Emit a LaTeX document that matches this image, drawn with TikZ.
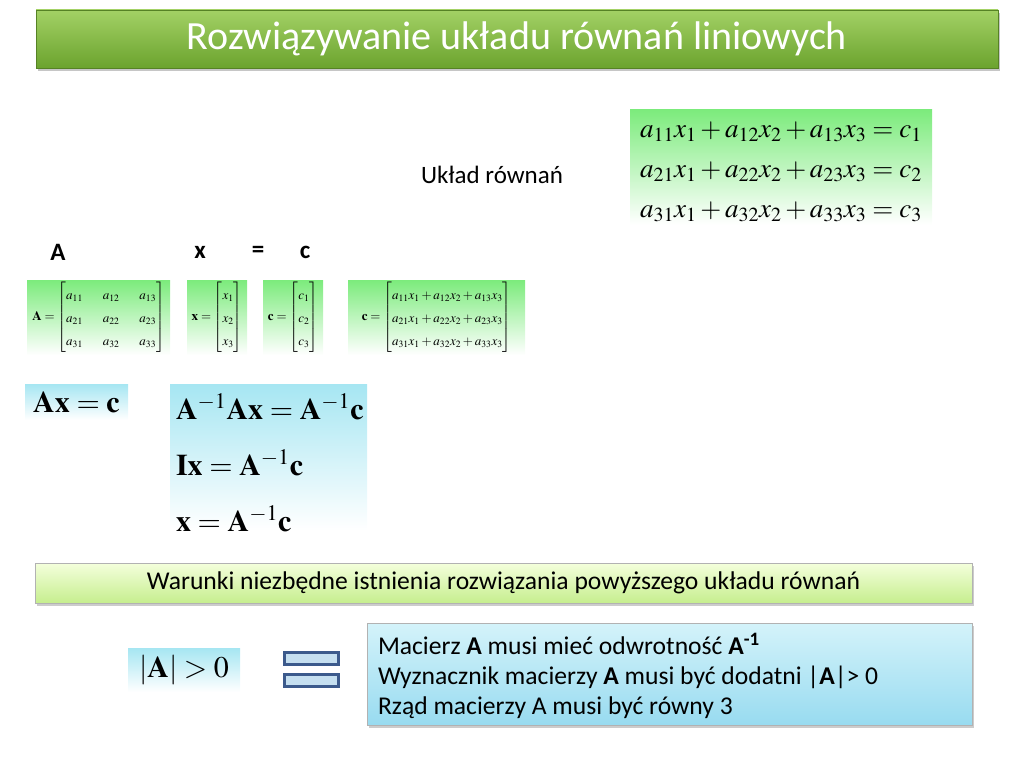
\documentclass[tikz,border=0pt]{standalone}
\usepackage{amsmath}
\usepackage{mathptmx}
\usepackage[no-math]{fontspec}
\setmainfont{Carlito}
\usetikzlibrary{positioning,shadows}

\definecolor{titletop}{HTML}{A3D165}
\definecolor{titlebot}{HTML}{6BA32E}
\definecolor{eqgreen}{HTML}{7CEB7C}
\definecolor{eqcyan}{HTML}{A6E6F2}
\definecolor{bartop}{HTML}{F4FFDC}
\definecolor{barbot}{HTML}{C6EE8E}
\definecolor{infotop}{HTML}{D4F3FA}
\definecolor{infobot}{HTML}{98DBF0}
\definecolor{signfill}{HTML}{C5DFF0}
\definecolor{signdraw}{HTML}{3C5A8C}

\newcommand{\bigmath}{\fontsize{30}{36}\selectfont}
\newcommand{\smallmath}{\fontsize{13}{23}\selectfont}

\begin{document}
\begin{tikzpicture}[
		x = 1pt, y = -1pt, % pixel grid, y downwards
		inner sep = 0pt,
		every node/.style = {font = \fontsize{25}{30}\selectfont}
	]
	
	\tikzset{
		titlebar/.style = {top color = titletop, bottom color = titlebot, draw = titlebot!80!black, text = white,
			drop shadow = {opacity = 0.45, shadow xshift = 2pt, shadow yshift = -3pt}},
		greenbox/.style = {top color = eqgreen, bottom color = white, minimum height = 75},
		cyanbox/.style = {top color = eqcyan, bottom color = white},
		condbar/.style = {top color = bartop, bottom color = barbot, draw = gray!60,
			drop shadow = {opacity = 0.4, shadow xshift = 2pt, shadow yshift = -3pt}},
		infobox/.style = {top color = infotop, bottom color = infobot, draw = gray!60,
			drop shadow = {opacity = 0.4, shadow xshift = 2pt, shadow yshift = -3pt}},
		lbl/.style = {font = \fontsize{25}{30}\selectfont\bfseries},
		signbar/.style = {fill = signfill, draw = signdraw, line width = 3pt, minimum width = 54, minimum height = 12}
	}
	
	\useasboundingbox (0,0) rectangle (1024,768);
	
	% title
	\node[titlebar, minimum width = 962, minimum height = 58, font = \fontsize{40}{44}\selectfont] (title) at (517,39) {\raisebox{-3pt}{Rozwiązywanie układu równań liniowych}};
	
	% system of equations
	\node (uklad) at (492,175) {Układ równań};
	\node[greenbox, minimum width = 302, minimum height = 115, align = center, font = \fontsize{27}{40}\selectfont] (eqs) at (781,167) {};
	\node[align = center, font = \fontsize{27}{40}\selectfont] (eqtext) at ([yshift = -5pt]eqs.center)
		{$a_{11}x_1+a_{12}x_2+a_{13}x_3=c_1$\\ $a_{21}x_1+a_{22}x_2+a_{23}x_3=c_2$\\ $a_{31}x_1+a_{32}x_2+a_{33}x_3=c_3$};
	
	% labels
	\node[lbl] (labA) at (58,252) {A};
	\node[lbl] (labx) at (200,252) {x};
	\node[lbl] (labeq) at (258,252) {=};
	\node[lbl] (labc) at (305,252) {c};
	
	% matrices
	\node[greenbox, minimum width = 143, font = \smallmath] (matA) at (98.5,317.5)
		{\setlength{\arraycolsep}{10pt}$\mathbf{A}=\begin{bmatrix} a_{11} & a_{12} & a_{13}\\ a_{21} & a_{22} & a_{23}\\ a_{31} & a_{32} & a_{33} \end{bmatrix}$};
	\node[greenbox, minimum width = 60, font = \smallmath] (matx) at (217,317.5)
		{$\mathbf{x}=\begin{bmatrix} x_1\\ x_2\\ x_3 \end{bmatrix}$};
	\node[greenbox, minimum width = 60, font = \smallmath] (matc) at (293,317.5)
		{$\mathbf{c}=\begin{bmatrix} c_1\\ c_2\\ c_3 \end{bmatrix}$};
	\node[greenbox, minimum width = 177, font = \smallmath] (matAx) at (436.5,317.5)
		{$\mathbf{c}=\begin{bmatrix} a_{11}x_1+a_{12}x_2+a_{13}x_3\\ a_{21}x_1+a_{22}x_2+a_{23}x_3\\ a_{31}x_1+a_{32}x_2+a_{33}x_3 \end{bmatrix}$};
	
	% solution
	\node[cyanbox, minimum width = 103, minimum height = 36, font = \bigmath] (axc) at (76.5,402) {$\mathbf{Ax}=\mathbf{c}$};
	\node[cyanbox, minimum width = 197, minimum height = 146] (solve) at (268.5,457) {};
	\node[anchor = west, align = left, font = \fontsize{30}{56}\selectfont] (steps) at ([xshift = 6pt, yshift = -6pt]solve.west)
		{$\mathbf{A}^{-1}\mathbf{Ax}=\mathbf{A}^{-1}\mathbf{c}$\\ $\mathbf{Ix}=\mathbf{A}^{-1}\mathbf{c}$\\ $\mathbf{x}=\mathbf{A}^{-1}\mathbf{c}$};
	
	% conditions
	\node[condbar, minimum width = 937, minimum height = 40, font = \fontsize{25.6}{30}\selectfont] (warunki) at (503.5,583) {Warunki niezbędne istnienia rozwiązania powyższego układu równań};
	\node[cyanbox, minimum width = 112, minimum height = 44, font = \bigmath] (det) at (184,670) {$|\mathbf{A}|>0$};
	\node[signbar] (signtop) at (311.5,658.5) {};
	\node[signbar] (signbot) at (311.5,680) {};
	\node[infobox, minimum width = 605, minimum height = 102] (info) at (669.5,674) {};
	\node[anchor = west, align = left, font = \fontsize{25.6}{30}\selectfont] (infotext) at ([xshift = 11pt, yshift = -2pt]info.west)
		{Macierz \textbf{A} musi mieć odwrotność \textbf{A}\textsuperscript{\textbf{-1}}\\
		 Wyznacznik macierzy \textbf{A} musi być dodatni |\textbf{A}|> 0\\
		 Rząd macierzy A musi być równy 3};
\end{tikzpicture}
\end{document}
